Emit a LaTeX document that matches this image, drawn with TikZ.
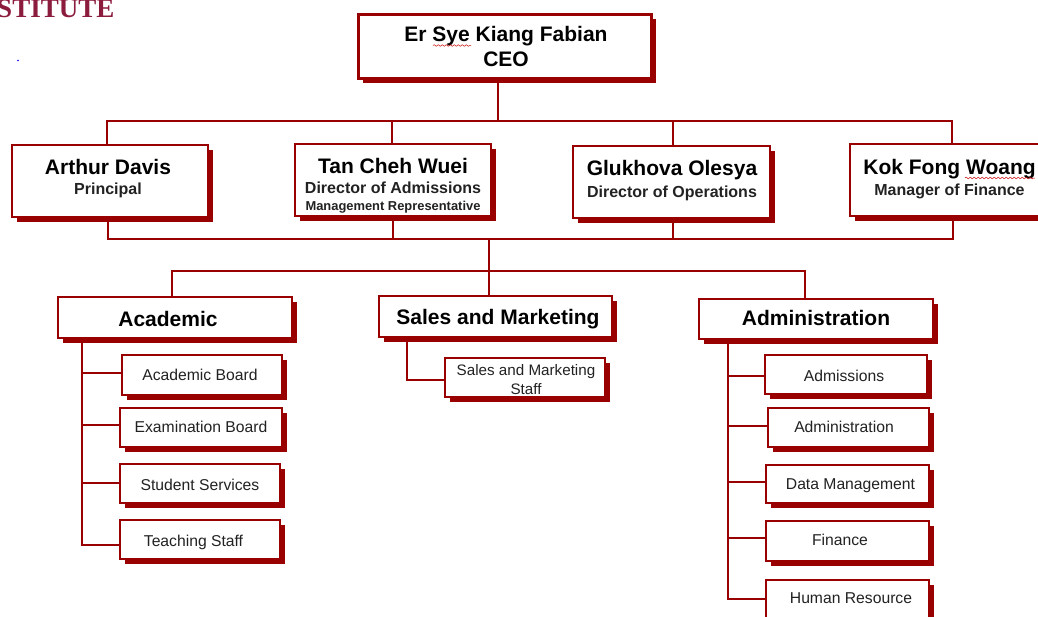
\documentclass[tikz,border=0pt]{standalone}
\usepackage{fontspec}
\setmainfont{Liberation Sans}
\newfontfamily\logofont{Liberation Serif}
\usetikzlibrary{shadows,decorations.pathmorphing}
\definecolor{boxred}{HTML}{990000}
\definecolor{logored}{HTML}{8C1C3E}
\definecolor{subtext}{HTML}{222222}
\tikzset{
  orgbox/.style={draw=boxred,fill=white,line width=2.4pt,rectangle,inner sep=0pt,outer sep=0pt,
    general shadow={fill=boxred,shadow xshift=4.8pt,shadow yshift=-4.8pt}},
  link/.style={draw=boxred,line width=2.4pt,line cap=rect},
  squiggle/.style={draw=red!80!black,line width=0.5pt,decorate,decoration={snake,amplitude=0.8pt,segment length=4pt}}
}
\newcommand\nameF{\fontsize{21}{24}\bfseries\selectfont}
\newcommand\roleF{\fontsize{16}{18}\bfseries\color{subtext}\selectfont}
\newcommand\smallF{\fontsize{12.9}{15}\bfseries\color{subtext}\selectfont}
\newcommand\itemF{\fontsize{15.7}{18}\color{subtext}\selectfont}
\newcommand\staffF{\fontsize{15.2}{18}\color{subtext}\selectfont}
\newcommand\stk[2]{{\fontsize{10}{#1}\selectfont\begin{tabular}[b]{@{}c@{}}#2\end{tabular}}}
% [options]{name}{x1}{y1}{x2}{y2}{text centre x}{baseline y}{text}
\newcommand\orgbox[9][]{%
  \pgfmathsetmacro\cxx{(#3+#5)/2}\pgfmathsetmacro\cyy{(#4+#6)/2}%
  \pgfmathsetmacro\ww{#5-#3-2}\pgfmathsetmacro\hh{#6-#4-2}%
  \pgfmathsetmacro\dxx{2*(#7-\cxx)}\pgfmathsetmacro\dyy{\cyy-#8}%
  \node[orgbox,minimum width=\ww pt,minimum height=\hh pt,#1] (#2) at (\cxx,\cyy)
    {\raisebox{\dyy pt}[0pt][0pt]{\makebox[0pt]{\hspace*{\dxx pt}#9}}};%
}
\begin{document}
\begin{tikzpicture}[x=1pt,y=-1pt]
\useasboundingbox (0,0) rectangle (1038,616);
\clip (0,0) rectangle (1038,616);
\fill[white] (0,0) rectangle (1038,616);
% cropped logo and stray dot
\node[anchor=base east,inner sep=0pt,text=logored,font=\logofont\bfseries\fontsize{27}{27}\selectfont] (logo) at (114.5,17) {STITUTE};
\node[circle,fill=blue,inner sep=0pt,minimum size=1.8pt] (dot) at (18,60.5) {};
% boxes
\orgbox[line width=3pt]{ceo}{357}{13}{652}{79}{506}{66}{\stk{24.5}{\nameF Er Sye Kiang Fabian\\\nameF CEO}}
\orgbox{arthur}{11}{144}{209}{218}{108}{194}{\stk{20}{\nameF Arthur Davis\\\roleF Principal}}
\orgbox{tan}{294}{143}{492}{217}{393}{210}{\stk{17}{\nameF Tan Cheh Wuei\\[3pt]\roleF Director of Admissions\\\smallF Management Representative}}
\orgbox{gluk}{572}{145}{771}{219}{672}{197.5}{\stk{22}{\nameF Glukhova Olesya\\\roleF Director of Operations}}
\orgbox{kok}{849}{143}{1055}{217}{949.5}{195}{\stk{21}{\nameF Kok Fong Woang\\\roleF Manager of Finance}}
\orgbox{academic}{57}{296}{293}{339}{168}{326}{\nameF Academic}
\orgbox{sales}{378}{295}{613}{338}{498}{324}{\nameF Sales and Marketing}
\orgbox{admin}{698}{298}{934}{340}{816}{325}{\nameF Administration}
\orgbox{aboard}{121}{354}{283}{396}{200}{380}{\itemF Academic Board}
\orgbox{exam}{119}{407}{283}{448}{201}{432}{\itemF Examination Board}
\orgbox{student}{119}{463}{281}{504}{200}{490}{\itemF Student Services}
\orgbox{teach}{119}{519}{281}{560}{193.5}{546}{\itemF Teaching Staff}
\orgbox{sstaff}{444}{357}{606}{398}{526}{394}{\stk{19}{\staffF Sales and Marketing\\\staffF Staff}}
\orgbox{admiss}{764}{354}{928}{395}{844}{381}{\itemF Admissions}
\orgbox{adminsub}{767}{407}{930}{448}{844}{432}{\itemF Administration}
\orgbox{data}{765}{464}{930}{504}{850.5}{489}{\itemF Data Management}
\orgbox{fin}{765}{520}{930}{562}{840}{545}{\itemF Finance}
\orgbox{hr}{765}{579}{930}{625}{851}{603}{\itemF Human Resource}
% spell-check underlines
\draw[squiggle] (433,45.5) -- (471,45.5);
\draw[squiggle] (965,178) -- (1035,178);
% helper coordinates
\coordinate (topbus) at (498,121);
\coordinate (midbus) at (489,239);
\coordinate (lowbus) at (489,271);
\coordinate (a1) at (82,373);
\coordinate (a2) at (82,425);
\coordinate (a3) at (82,483);
\coordinate (a4) at (82,545);
\coordinate (s1) at (407,380);
\coordinate (d1) at (728,376);
\coordinate (d2) at (728,426);
\coordinate (d3) at (728,482);
\coordinate (d4) at (728,538);
\coordinate (d5) at (728,599);
% CEO to managers
\draw[link] ([xshift=-6.5pt]ceo.south) -- (topbus);
\draw[link] ([xshift=-3pt]arthur.north) -- ([xshift=-3pt]arthur.north |- topbus) -- (kok.north |- topbus) -- (kok.north);
\draw[link] ([xshift=-1pt]tan.north) -- ([xshift=-1pt]tan.north |- topbus);
\draw[link] ([xshift=1.5pt]gluk.north) -- ([xshift=1.5pt]gluk.north |- topbus);
% managers to departments
\draw[link] ([xshift=-2pt]arthur.south) -- ([xshift=-2pt]arthur.south |- midbus) -- ([xshift=1pt]kok.south |- midbus) -- ([xshift=1pt]kok.south);
\draw[link] (tan.south) -- (tan.south |- midbus);
\draw[link] ([xshift=1.5pt]gluk.south) -- ([xshift=1.5pt]gluk.south |- midbus);
\draw[link] (midbus) -- (lowbus) -- (sales.north -| lowbus);
\draw[link] ([xshift=-3pt]academic.north) -- ([xshift=-3pt]academic.north |- lowbus) -- ([xshift=-11pt]admin.north |- lowbus) -- ([xshift=-11pt]admin.north);
% department branches
\draw[link] (academic.south -| a1) -- (a4) -- (teach.west |- a4);
\draw[link] (a1) -- (aboard.west |- a1);
\draw[link] (a2) -- (exam.west |- a2);
\draw[link] (a3) -- (student.west |- a3);
\draw[link] (sales.south -| s1) -- (s1) -- (sstaff.west |- s1);
\draw[link] (admin.south -| d1) -- (d5) -- (hr.west |- d5);
\draw[link] (d1) -- (admiss.west |- d1);
\draw[link] (d2) -- (adminsub.west |- d2);
\draw[link] (d3) -- (data.west |- d3);
\draw[link] (d4) -- (fin.west |- d4);
\end{tikzpicture}
\end{document}
